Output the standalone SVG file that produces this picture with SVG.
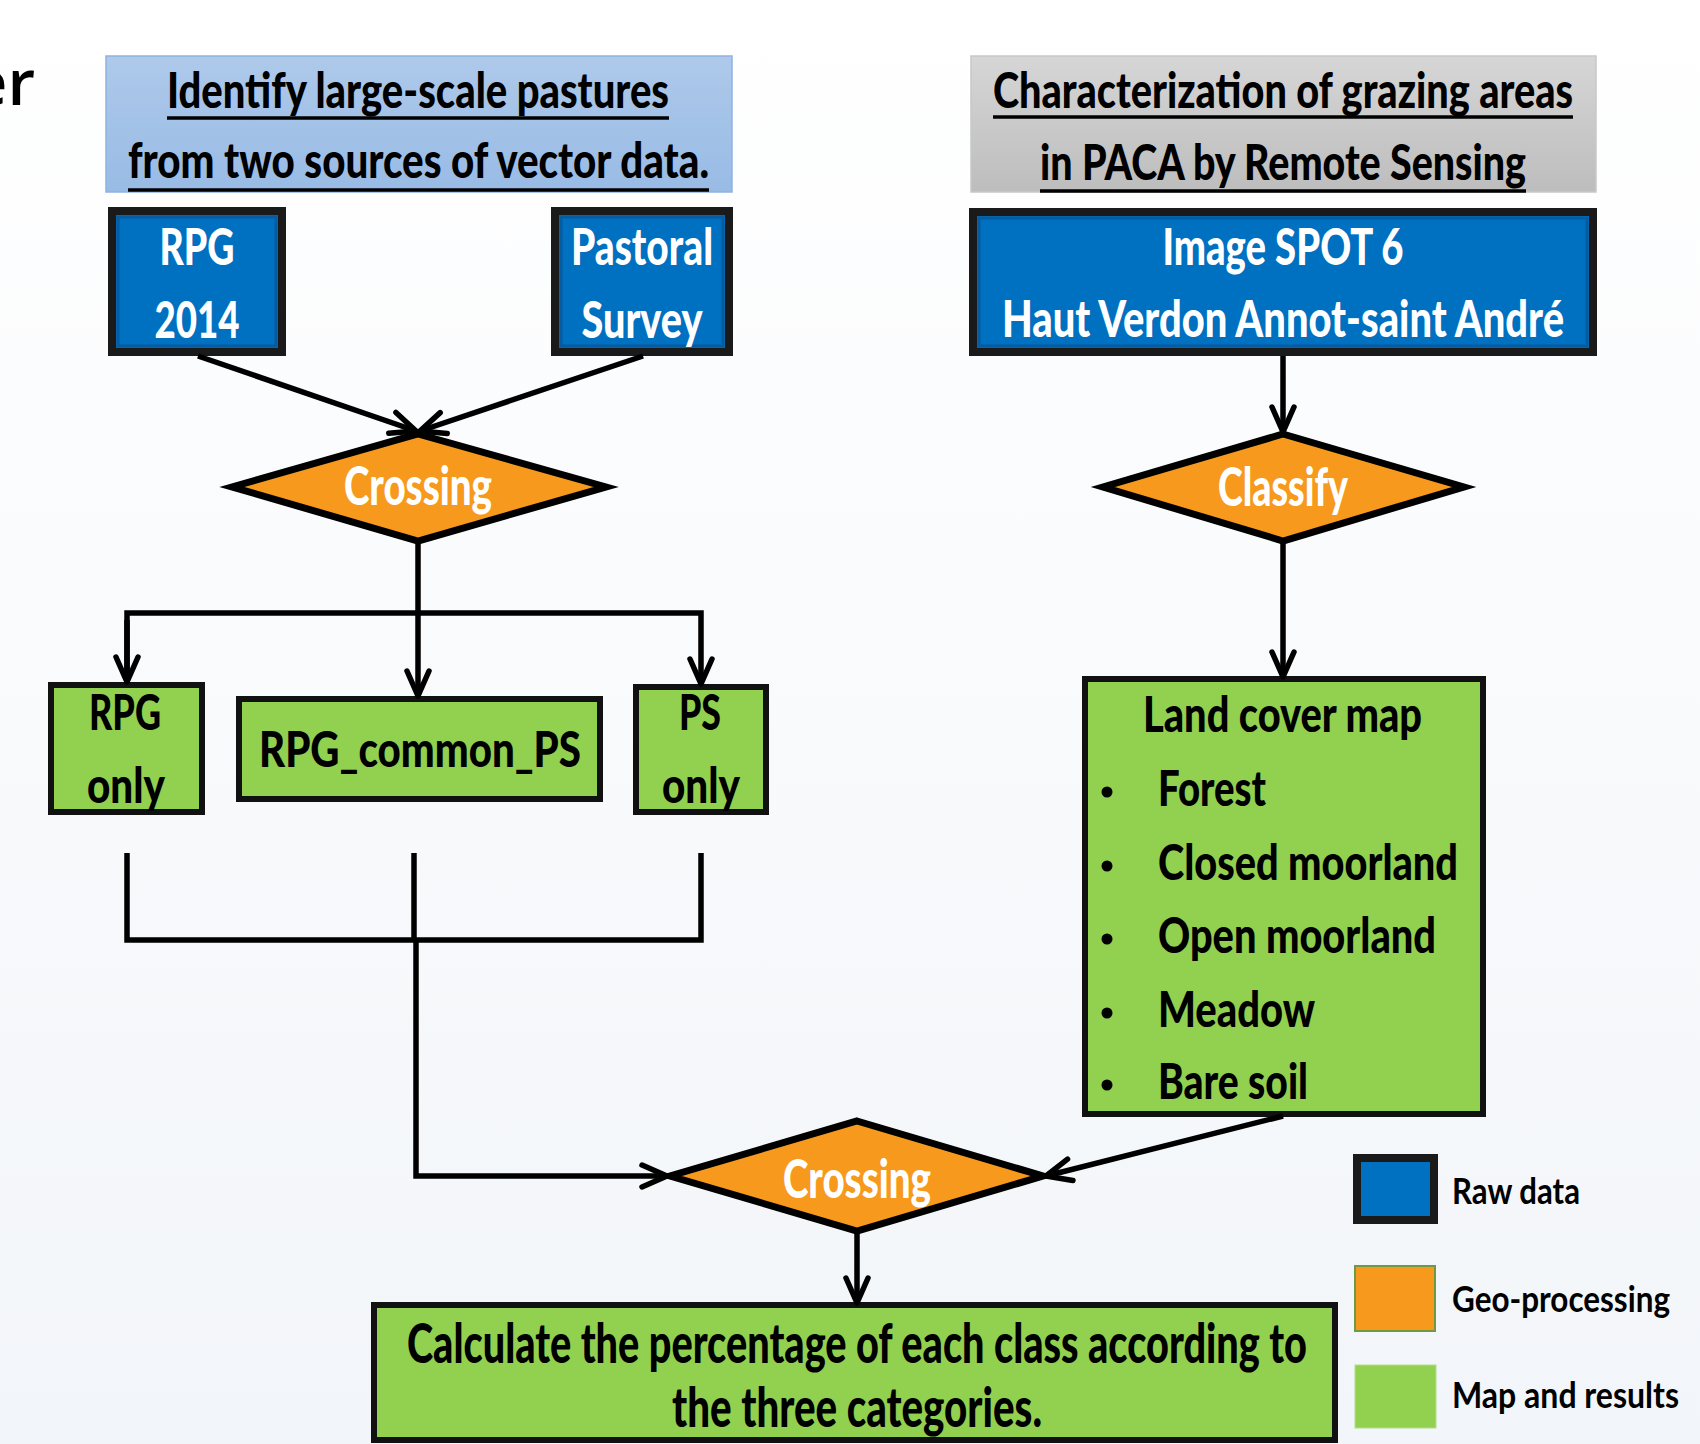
<svg xmlns="http://www.w3.org/2000/svg" width="1700" height="1444" viewBox="0 0 1700 1444">
  <defs>
    <linearGradient id="bg" x1="0" y1="0" x2="0" y2="1">
      <stop offset="0" stop-color="#ffffff"/>
      <stop offset="1" stop-color="#f2f5f9"/>
    </linearGradient>
    <linearGradient id="gBlueHdr" x1="0" y1="0" x2="0" y2="1">
      <stop offset="0" stop-color="#aec9ea"/>
      <stop offset="1" stop-color="#98bbe5"/>
    </linearGradient>
    <linearGradient id="gGrayHdr" x1="0" y1="0" x2="0" y2="1">
      <stop offset="0" stop-color="#d6d6d6"/>
      <stop offset="1" stop-color="#bdbdbd"/>
    </linearGradient>
    <marker id="arr" markerUnits="userSpaceOnUse" markerWidth="40" markerHeight="40" viewBox="-30 -20 40 40" refX="0" refY="0" orient="auto" overflow="visible">
      <path d="M-25,-11 L0,0 L-25,11" fill="none" stroke="#000" stroke-width="5.5" stroke-linecap="round" stroke-linejoin="round"/>
    </marker>
    <style>
      .t { font-family: Lato, "Open Sans", "Liberation Sans", sans-serif; font-weight: 900; }
      .w { fill: #ffffff; }
      .k { fill: #000000; }
      .raw { fill: #0070C0; stroke: #1a1a1a; stroke-width: 8; }
      .rawin { fill: none; stroke: #0a4f8c; stroke-width: 3; opacity: 0.6; }
      .geo { fill: #F7991C; stroke: #000; stroke-width: 7; stroke-linejoin: miter; }
      .res { fill: #92D050; stroke: #111; stroke-width: 6; }
      .ul { stroke: #000; stroke-width: 3.5; }
      .c { fill: none; stroke: #000; stroke-width: 5.5; }
      .leg { font-family: Lato, "Open Sans", "Liberation Sans", sans-serif; font-weight: bold; fill: #000; }
    </style>
  </defs>

  <rect x="0" y="0" width="1700" height="1444" fill="url(#bg)"/>

  <text x="35" y="105" text-anchor="end" font-family="'Open Sans', 'Liberation Sans', sans-serif" font-weight="600" font-size="64" fill="#000">er</text>

  <g id="header-left">
    <rect x="106" y="56" width="626" height="136" fill="url(#gBlueHdr)" stroke="#8fb3e0" stroke-width="1.5"/>
    <text class="t k" x="418" y="108" font-size="49" text-anchor="middle" textLength="502" lengthAdjust="spacingAndGlyphs">Identify large-scale pastures</text>
    <line class="ul" x1="167" y1="118" x2="669" y2="118"/>
    <text class="t k" x="418.5" y="178" font-size="49" text-anchor="middle" textLength="581" lengthAdjust="spacingAndGlyphs">from two sources of vector data.</text>
    <line class="ul" x1="128" y1="190" x2="709" y2="190"/>
  </g>

  <g id="header-right">
    <rect x="971" y="56" width="625" height="136" fill="url(#gGrayHdr)" stroke="#c8c8c8" stroke-width="1.5"/>
    <text class="t k" x="1283" y="108" font-size="49" text-anchor="middle" textLength="580" lengthAdjust="spacingAndGlyphs">Characterization of grazing areas</text>
    <line class="ul" x1="993" y1="117" x2="1573" y2="117"/>
    <text class="t k" x="1283" y="180" font-size="49" text-anchor="middle" textLength="486" lengthAdjust="spacingAndGlyphs">in PACA by Remote Sensing</text>
    <line class="ul" x1="1040" y1="191" x2="1526" y2="191"/>
  </g>

  <g id="rpg2014">
    <rect class="raw" x="112" y="211" width="170" height="141"/>
    <rect class="rawin" x="118" y="217" width="158" height="129"/>
    <text class="t w" x="197" y="265" font-size="51" text-anchor="middle" textLength="75" lengthAdjust="spacingAndGlyphs">RPG</text>
    <text class="t w" x="197" y="338" font-size="51" text-anchor="middle" textLength="85" lengthAdjust="spacingAndGlyphs">2014</text>
  </g>

  <g id="pastoral">
    <rect class="raw" x="555" y="211" width="174" height="141"/>
    <rect class="rawin" x="561" y="217" width="162" height="129"/>
    <text class="t w" x="642" y="265" font-size="51" text-anchor="middle" textLength="142" lengthAdjust="spacingAndGlyphs">Pastoral</text>
    <text class="t w" x="642" y="338" font-size="51" text-anchor="middle" textLength="121" lengthAdjust="spacingAndGlyphs">Survey</text>
  </g>

  <g id="spot6">
    <rect class="raw" x="973" y="212" width="620" height="140"/>
    <rect class="rawin" x="979" y="218" width="608" height="128"/>
    <text class="t w" x="1283" y="265" font-size="51" text-anchor="middle" textLength="241" lengthAdjust="spacingAndGlyphs">Image SPOT 6</text>
    <text class="t w" x="1283" y="337" font-size="51" text-anchor="middle" textLength="562" lengthAdjust="spacingAndGlyphs">Haut Verdon Annot-saint André</text>
  </g>

  <g id="crossing1">
    <polygon class="geo" points="418,434 606,487 418,541 232,487"/>
    <text class="t w" x="418" y="505" font-size="53" text-anchor="middle" textLength="148" lengthAdjust="spacingAndGlyphs">Crossing</text>
  </g>

  <g id="classify">
    <polygon class="geo" points="1283,434 1464,487 1283,541 1103,487"/>
    <text class="t w" x="1283" y="506" font-size="53" text-anchor="middle" textLength="130" lengthAdjust="spacingAndGlyphs">Classify</text>
  </g>

  <g id="rpg-only">
    <rect class="res" x="51" y="685" width="151" height="127"/>
    <text class="t k" x="125" y="730" font-size="49" text-anchor="middle" textLength="72" lengthAdjust="spacingAndGlyphs">RPG</text>
    <text class="t k" x="126" y="803" font-size="49" text-anchor="middle" textLength="78" lengthAdjust="spacingAndGlyphs">only</text>
  </g>

  <g id="rpg-common-ps">
    <rect class="res" x="239" y="699" width="361" height="100"/>
    <text class="t k" x="420" y="767" font-size="49" text-anchor="middle" textLength="322" lengthAdjust="spacingAndGlyphs">RPG_common_PS</text>
  </g>

  <g id="ps-only">
    <rect class="res" x="636" y="687" width="130" height="125"/>
    <text class="t k" x="700" y="730" font-size="49" text-anchor="middle" textLength="42" lengthAdjust="spacingAndGlyphs">PS</text>
    <text class="t k" x="701" y="803" font-size="49" text-anchor="middle" textLength="78" lengthAdjust="spacingAndGlyphs">only</text>
  </g>

  <g id="land-cover">
    <rect class="res" x="1085" y="679" width="398" height="435"/>
    <text class="t k" x="1143" y="732" font-size="49" textLength="279" lengthAdjust="spacingAndGlyphs">Land cover map</text>
    <circle cx="1107" cy="792" r="5.5" fill="#000"/>
    <text class="t k" x="1158" y="806" font-size="49" textLength="108" lengthAdjust="spacingAndGlyphs">Forest</text>
    <circle cx="1107" cy="866" r="5.5" fill="#000"/>
    <text class="t k" x="1158" y="880" font-size="49" textLength="300" lengthAdjust="spacingAndGlyphs">Closed moorland</text>
    <circle cx="1107" cy="939" r="5.5" fill="#000"/>
    <text class="t k" x="1158" y="953" font-size="49" textLength="278" lengthAdjust="spacingAndGlyphs">Open moorland</text>
    <circle cx="1107" cy="1013" r="5.5" fill="#000"/>
    <text class="t k" x="1158" y="1027" font-size="49" textLength="157" lengthAdjust="spacingAndGlyphs">Meadow</text>
    <circle cx="1107" cy="1085" r="5.5" fill="#000"/>
    <text class="t k" x="1158" y="1099" font-size="49" textLength="150" lengthAdjust="spacingAndGlyphs">Bare soil</text>
  </g>

  <g id="crossing2">
    <polygon class="geo" points="857,1121 1043,1176 857,1231 670,1176"/>
    <text class="t w" x="857" y="1198" font-size="53" text-anchor="middle" textLength="148" lengthAdjust="spacingAndGlyphs">Crossing</text>
  </g>

  <g id="calculate">
    <rect class="res" x="374" y="1305" width="961" height="135"/>
    <text class="t k" x="857" y="1363" font-size="55" text-anchor="middle" textLength="900" lengthAdjust="spacingAndGlyphs">Calculate the percentage of each class according to</text>
    <text class="t k" x="857" y="1427" font-size="55" text-anchor="middle" textLength="370" lengthAdjust="spacingAndGlyphs">the three categories.</text>
  </g>

  <g id="legend">
    <rect x="1357" y="1158" width="77" height="62" fill="#0070C0" stroke="#1a1a1a" stroke-width="8"/>
    <text class="leg" x="1452" y="1204" font-size="36" textLength="128" lengthAdjust="spacingAndGlyphs">Raw data</text>
    <rect x="1355" y="1266" width="80" height="65" fill="#F7991C" stroke="#6f9a45" stroke-width="2"/>
    <text class="leg" x="1452" y="1312" font-size="36" textLength="218" lengthAdjust="spacingAndGlyphs">Geo-processing</text>
    <rect x="1355" y="1365" width="81" height="63" fill="#92D050" stroke="#b5dc8a" stroke-width="1"/>
    <text class="leg" x="1452" y="1408" font-size="36" textLength="227" lengthAdjust="spacingAndGlyphs">Map and results</text>
  </g>

  <g id="connectors">
    <line class="c" x1="198" y1="356" x2="416" y2="431" marker-end="url(#arr)"/>
    <line class="c" x1="643" y1="356" x2="420" y2="431" marker-end="url(#arr)"/>
    <line class="c" x1="418" y1="541" x2="418" y2="613"/>
    <polyline class="c" points="127,682 127,613 701,613 701,684" marker-end="url(#arr)"/>
    <line class="c" x1="127" y1="620" x2="127" y2="682" marker-end="url(#arr)"/>
    <line class="c" x1="418" y1="613" x2="418" y2="696" marker-end="url(#arr)"/>
    <polyline class="c" points="127,853 127,940 701,940 701,853"/>
    <line class="c" x1="414" y1="853" x2="414" y2="940"/>
    <polyline class="c" points="416,940 416,1176 667,1176" marker-end="url(#arr)"/>
    <line class="c" x1="1283" y1="356" x2="1283" y2="432" marker-end="url(#arr)"/>
    <line class="c" x1="1283" y1="541" x2="1283" y2="677" marker-end="url(#arr)"/>
    <line class="c" x1="1283" y1="1116" x2="1046" y2="1176" marker-end="url(#arr)"/>
    <line class="c" x1="857" y1="1231" x2="857" y2="1303" marker-end="url(#arr)"/>
  </g>
</svg>
